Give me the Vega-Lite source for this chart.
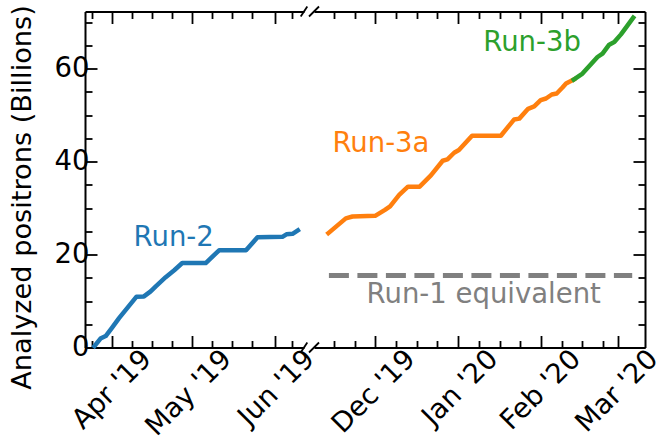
{
  "$schema": "https://vega.github.io/schema/vega-lite/v6.json",
  "background": "white",
  "padding": {"left": 7, "top": 4.5, "right": 5, "bottom": 5},
  "spacing": 10,
  "bounds": "flush",
  "config": {
    "view": {"stroke": null},
    "font": "DejaVu Sans",
    "axis": {
      "domain": true, "ticks": true,
      "domainColor": "black", "domainWidth": 2, "tickColor": "black", "tickWidth": 1.8,
      "labelFont": "DejaVu Sans", "labelFontSize": 27.5, "labelColor": "black",
      "titleFont": "DejaVu Sans", "titleFontSize": 27.2, "titleFontWeight": "normal", "titleColor": "black",
      "grid": false, "labelOverlap": false, "labelFlush": false, "labelBound": false
    },
    "text": {"font": "DejaVu Sans"}
  },
  "hconcat": [
    {
      "width": 219, "height": 336,
      "resolve": {"axis": {"x": "independent", "y": "independent"}},
      "layer": [
        {
          "data": {"values": [
            {"date":"2019-03-25T13:00:00Z","v":0.28},
            {"date":"2019-03-27T19:00:00Z","v":1.93},
            {"date":"2019-03-29T18:00:00Z","v":2.47},
            {"date":"2019-04-01T02:00:00Z","v":4.23},
            {"date":"2019-04-03T18:00:00Z","v":6.33},
            {"date":"2019-04-10T07:00:00Z","v":10.94},
            {"date":"2019-04-13T02:00:00Z","v":11.0},
            {"date":"2019-04-15T14:00:00Z","v":12.08},
            {"date":"2019-04-17T12:00:00Z","v":13.15},
            {"date":"2019-04-21T05:00:00Z","v":15.13},
            {"date":"2019-04-24T10:00:00Z","v":16.63},
            {"date":"2019-04-27T10:00:00Z","v":18.18},
            {"date":"2019-05-06T05:00:00Z","v":18.18},
            {"date":"2019-05-11T05:00:00Z","v":20.92},
            {"date":"2019-05-21T07:00:00Z","v":20.92},
            {"date":"2019-05-25T14:00:00Z","v":23.71},
            {"date":"2019-06-03T22:00:00Z","v":23.82},
            {"date":"2019-06-05T10:00:00Z","v":24.36},
            {"date":"2019-06-07T17:00:00Z","v":24.46},
            {"date":"2019-06-09T17:00:00Z","v":25.2}
          ]},
          "mark": {"type": "line", "color": "#1f77b4", "strokeWidth": 4.5, "strokeJoin": "round", "strokeCap": "square"},
          "encoding": {
            "x": {"field": "date", "type": "temporal",
              "scale": {"domain": [1553212800000, 1560297600000], "nice": false},
              "axis": {"orient": "bottom", "title": null,
                "values": [1553428800000, 1554076800000, 1554724800000, 1555372800000, 1556020800000, 1556668800000, 1557316800000, 1557964800000, 1558612800000, 1559347200000, 1559908800000],
                "tickSize": {"condition": {"test": "utcdate(datum.value) == 1", "value": -12}, "value": -7},
                "labelExpr": "utcdate(datum.value) == 1 ? utcFormat(datum.value, \"%b '%y\") : ''",
                "labelAngle": -45, "labelAlign": "right", "labelBaseline": "middle", "labelOffset": 35, "labelPadding": 19}},
            "y": {"field": "v", "type": "quantitative",
              "scale": {"domain": [0, 72.3], "nice": false},
              "axis": {"orient": "left", "title": "Analyzed positrons (Billions)",
                "values": [0,5,10,15,20,25,30,35,40,45,50,55,60,65,70],
                "tickSize": {"condition": {"test": "datum.value % 20 == 0", "value": -12}, "value": -7},
                "labelExpr": "datum.value % 20 == 0 ? datum.label : ''",
                "labelPadding": 8,
                "titleX": -55, "titleY": 185.5, "titleAngle": -90, "titleAlign": "center", "titleBaseline": "alphabetic"}}
          }
        },
        {
          "data": {"values": [{"date": "2019-04-24T05:00:00Z", "v": 23.6, "label": "Run-2"}]},
          "mark": {"type": "text", "color": "#1f77b4", "fontSize": 27.5, "align": "center", "baseline": "middle"},
          "encoding": {
            "x": {"field": "date", "type": "temporal", "axis": null},
            "y": {"field": "v", "type": "quantitative", "axis": null},
            "text": {"field": "label"}
          }
        },
        {
          "data": {"values": [{"date": "2019-06-12T00:00:00Z", "v": 0}, {"date": "2019-06-12T00:00:00Z", "v": 72.3}]},
          "mark": {"type": "rule", "color": "black", "strokeWidth": 1.8, "xOffset": -3.3, "x2Offset": 3.3, "yOffset": 5, "y2Offset": -5},
          "encoding": {
            "x": {"field": "date", "type": "temporal",
              "axis": {"orient": "top", "title": null, "labels": false,
                "values": [1553428800000, 1554076800000, 1554724800000, 1555372800000, 1556020800000, 1556668800000, 1557316800000, 1557964800000, 1558612800000, 1559347200000, 1559908800000],
                "tickSize": {"condition": {"test": "utcdate(datum.value) == 1", "value": -12}, "value": -7}}},
            "x2": {"field": "date"},
            "y": {"field": "v", "type": "quantitative", "axis": null},
            "y2": {"field": "v"}
          }
        }
      ]
    },
    {
      "width": 331, "height": 336,
      "resolve": {"axis": {"x": "independent", "y": "independent"}},
      "layer": [
        {
          "data": {"values": [
            {"date":"2019-11-13T09:00:00Z","v":24.61,"run":"Run-3a"},
            {"date":"2019-11-19T22:00:00Z","v":27.79,"run":"Run-3a"},
            {"date":"2019-11-22T10:00:00Z","v":28.18,"run":"Run-3a"},
            {"date":"2019-11-30T22:00:00Z","v":28.33,"run":"Run-3a"},
            {"date":"2019-12-04T14:00:00Z","v":29.61,"run":"Run-3a"},
            {"date":"2019-12-06T12:00:00Z","v":30.36,"run":"Run-3a"},
            {"date":"2019-12-09T22:00:00Z","v":32.83,"run":"Run-3a"},
            {"date":"2019-12-13T05:00:00Z","v":34.61,"run":"Run-3a"},
            {"date":"2019-12-17T14:00:00Z","v":34.61,"run":"Run-3a"},
            {"date":"2019-12-21T19:00:00Z","v":37.02,"run":"Run-3a"},
            {"date":"2019-12-26T05:00:00Z","v":40.19,"run":"Run-3a"},
            {"date":"2019-12-28T00:00:00Z","v":40.49,"run":"Run-3a"},
            {"date":"2019-12-30T12:00:00Z","v":41.91,"run":"Run-3a"},
            {"date":"2020-01-01T07:00:00Z","v":42.49,"run":"Run-3a"},
            {"date":"2020-01-03T19:00:00Z","v":44.06,"run":"Run-3a"},
            {"date":"2020-01-06T05:00:00Z","v":45.56,"run":"Run-3a"},
            {"date":"2020-01-17T00:00:00Z","v":45.56,"run":"Run-3a"},
            {"date":"2020-01-22T00:00:00Z","v":49.08,"run":"Run-3a"},
            {"date":"2020-01-23T22:00:00Z","v":49.25,"run":"Run-3a"},
            {"date":"2020-01-27T05:00:00Z","v":51.35,"run":"Run-3a"},
            {"date":"2020-01-29T12:00:00Z","v":51.87,"run":"Run-3a"},
            {"date":"2020-01-31T22:00:00Z","v":53.22,"run":"Run-3a"},
            {"date":"2020-02-02T22:00:00Z","v":53.58,"run":"Run-3a"},
            {"date":"2020-02-05T02:00:00Z","v":54.44,"run":"Run-3a"},
            {"date":"2020-02-06T22:00:00Z","v":54.66,"run":"Run-3a"},
            {"date":"2020-02-09T02:00:00Z","v":55.94,"run":"Run-3a"},
            {"date":"2020-02-10T10:00:00Z","v":56.80,"run":"Run-3a"},
            {"date":"2020-02-12T10:00:00Z","v":57.40,"run":"Run-3a"},
            {"date":"2020-02-13T07:00:00Z","v":57.66,"run":"Run-3a"},
            {"date":"2020-02-13T07:00:00Z","v":57.66,"run":"Run-3b"},
            {"date":"2020-02-16T14:00:00Z","v":58.95,"run":"Run-3b"},
            {"date":"2020-02-22T05:00:00Z","v":62.51,"run":"Run-3b"},
            {"date":"2020-02-24T02:00:00Z","v":63.24,"run":"Run-3b"},
            {"date":"2020-02-26T14:00:00Z","v":65.17,"run":"Run-3b"},
            {"date":"2020-02-28T12:00:00Z","v":65.73,"run":"Run-3b"},
            {"date":"2020-03-02T00:00:00Z","v":67.38,"run":"Run-3b"},
            {"date":"2020-03-06T14:00:00Z","v":70.97,"run":"Run-3b"}
          ]},
          "mark": {"type": "line", "strokeWidth": 4.5, "strokeJoin": "round", "strokeCap": "square"},
          "encoding": {
            "x": {"field": "date", "type": "temporal",
              "scale": {"domain": [1573171200000, 1583884800000], "nice": false},
              "axis": {"orient": "bottom", "title": null,
                "values": [1573819200000, 1574488800000, 1575158400000, 1575828000000, 1576497600000, 1577167200000, 1577836800000, 1578506400000, 1579176000000, 1579845600000, 1580515200000, 1581184800000, 1581854400000, 1582524000000, 1583020800000],
                "tickSize": {"condition": {"test": "utcdate(datum.value) == 1", "value": -12}, "value": -7},
                "labelExpr": "utcdate(datum.value) == 1 ? utcFormat(datum.value, \"%b '%y\") : ''",
                "labelAngle": -45, "labelAlign": "right", "labelBaseline": "middle", "labelOffset": 35, "labelPadding": 19}},
            "y": {"field": "v", "type": "quantitative",
              "scale": {"domain": [0, 72.3], "nice": false},
              "axis": {"orient": "right", "title": null, "labels": false,
                "values": [0,5,10,15,20,25,30,35,40,45,50,55,60,65,70],
                "tickSize": {"condition": {"test": "datum.value % 20 == 0", "value": -12}, "value": -7}}},
            "color": {"field": "run", "type": "nominal",
              "scale": {"domain": ["Run-3a", "Run-3b", "Run-1 equivalent"], "range": ["#ff7f0e", "#2ca02c", "#808080"]},
              "legend": null}
          }
        },
        {
          "data": {"values": [
            {"date": "2019-11-13T14:00:00Z", "v": 15.5, "run": "Run-1 equivalent"},
            {"date": "2020-03-06T05:00:00Z", "v": 15.5, "run": "Run-1 equivalent"}
          ]},
          "mark": {"type": "line", "strokeWidth": 5, "strokeDash": [20, 8.5]},
          "encoding": {
            "x": {"field": "date", "type": "temporal", "axis": null},
            "y": {"field": "v", "type": "quantitative", "axis": null},
            "color": {"field": "run", "type": "nominal", "legend": null}
          }
        },
        {
          "data": {"values": [
            {"date": "2019-12-03T02:00:00Z", "v": 43.8, "run": "Run-3a"},
            {"date": "2020-01-28T17:00:00Z", "v": 65.5, "run": "Run-3b"},
            {"date": "2020-01-10T14:00:00Z", "v": 11.4, "run": "Run-1 equivalent"}
          ]},
          "mark": {"type": "text", "fontSize": 27.5, "align": "center", "baseline": "middle"},
          "encoding": {
            "x": {"field": "date", "type": "temporal", "axis": null},
            "y": {"field": "v", "type": "quantitative", "axis": null},
            "text": {"field": "run"},
            "color": {"field": "run", "type": "nominal", "legend": null}
          }
        },
        {
          "data": {"values": [{"date": "2019-11-08T00:00:00Z", "v": 0}, {"date": "2019-11-08T00:00:00Z", "v": 72.3}]},
          "mark": {"type": "rule", "color": "black", "strokeWidth": 1.8, "xOffset": -5, "x2Offset": 5, "yOffset": 5, "y2Offset": -5},
          "encoding": {
            "x": {"field": "date", "type": "temporal",
              "axis": {"orient": "top", "title": null, "labels": false,
                "values": [1573819200000, 1574488800000, 1575158400000, 1575828000000, 1576497600000, 1577167200000, 1577836800000, 1578506400000, 1579176000000, 1579845600000, 1580515200000, 1581184800000, 1581854400000, 1582524000000, 1583020800000],
                "tickSize": {"condition": {"test": "utcdate(datum.value) == 1", "value": -12}, "value": -7}}},
            "x2": {"field": "date"},
            "y": {"field": "v", "type": "quantitative", "axis": null},
            "y2": {"field": "v"}
          }
        }
      ]
    }
  ]
}
